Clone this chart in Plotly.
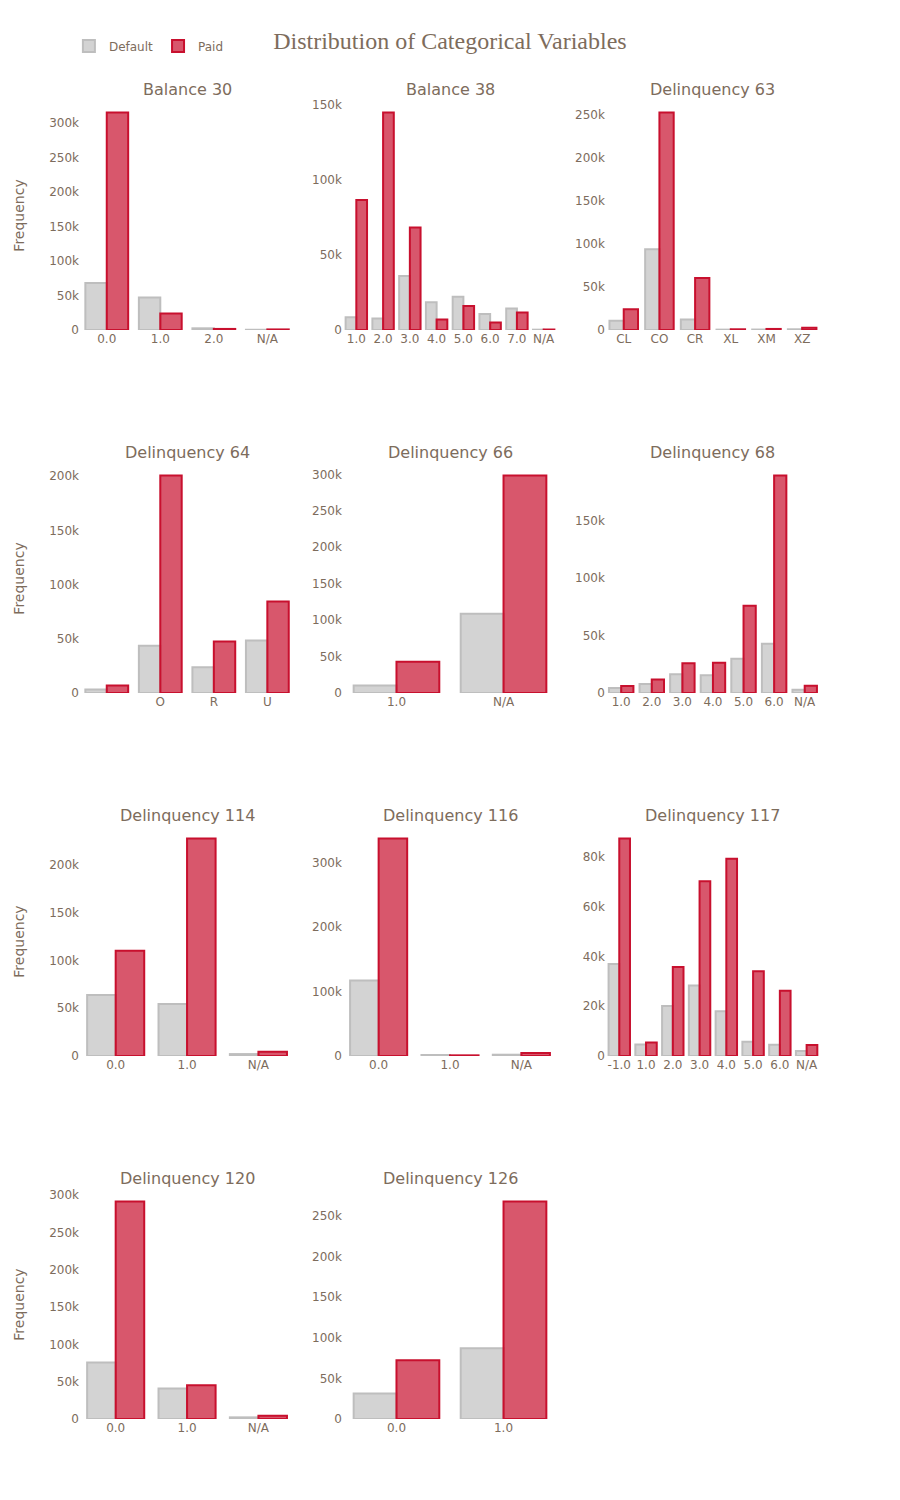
import plotly.graph_objects as go
from plotly.subplots import make_subplots

# categories and counts per variable
titles = ["Balance 30", "Balance 38", "Delinquency 63", "Delinquency 64",
          "Delinquency 66", "Delinquency 68", "Delinquency 114", "Delinquency 116",
          "Delinquency 117", "Delinquency 120", "Delinquency 126"]

b30_cats = ["0.0", "1.0", "2.0", "N/A"]
b30_default = [68000, 47000, 2400, 300]
b30_paid = [315000, 24000, 1500, 800]

b38_cats = ["1.0", "2.0", "3.0", "4.0", "5.0", "6.0", "7.0", "N/A"]
b38_default = [8400, 7700, 35900, 18500, 22200, 10600, 14300, 200]
b38_paid = [86600, 145000, 68300, 7000, 16000, 5000, 11700, 300]

d63_cats = ["CL", "CO", "CR", "XL", "XM", "XZ"]
d63_default = [10800, 93800, 12300, 400, 500, 800]
d63_paid = [24200, 253000, 60400, 800, 1200, 2700]

d64_cats = ["", "O", "R", "U"]
d64_default = [3300, 43500, 23700, 48400]
d64_paid = [7000, 200600, 47500, 84300]

d66_cats = ["1.0", "N/A"]
d66_default = [10400, 108700]
d66_paid = [43000, 298600]

d68_cats = ["1.0", "2.0", "3.0", "4.0", "5.0", "6.0", "N/A"]
d68_default = [4300, 7800, 16400, 15500, 29900, 42800, 2900]
d68_paid = [6000, 11800, 25900, 26400, 75900, 189400, 6300]

d114_cats = ["0.0", "1.0", "N/A"]
d114_default = [63800, 54500, 2000]
d114_paid = [110000, 227600, 4500]

d116_cats = ["0.0", "1.0", "N/A"]
d116_default = [117000, 1500, 2000]
d116_paid = [337000, 1000, 4600]

d117_cats = ["-1.0", "1.0", "2.0", "3.0", "4.0", "5.0", "6.0", "N/A"]
d117_default = [37000, 4600, 20100, 28300, 18000, 5700, 4500, 2000]
d117_paid = [87400, 5400, 35800, 70200, 79300, 34000, 26200, 4400]

d120_cats = ["0.0", "1.0", "N/A"]
d120_default = [75800, 40800, 2200]
d120_paid = [291500, 45200, 4400]

d126_cats = ["0.0", "1.0"]
d126_default = [31300, 87000]
d126_paid = [72400, 267500]

panels = [
    (b30_cats, b30_default, b30_paid),
    (b38_cats, b38_default, b38_paid),
    (d63_cats, d63_default, d63_paid),
    (d64_cats, d64_default, d64_paid),
    (d66_cats, d66_default, d66_paid),
    (d68_cats, d68_default, d68_paid),
    (d114_cats, d114_default, d114_paid),
    (d116_cats, d116_default, d116_paid),
    (d117_cats, d117_default, d117_paid),
    (d120_cats, d120_default, d120_paid),
    (d126_cats, d126_default, d126_paid),
]

text_col = '#7d6c5c'
font_fam = "Tahoma, 'DejaVu Sans', sans-serif"

fig = make_subplots(rows=4, cols=3, subplot_titles=titles,
                    vertical_spacing=0.1017, horizontal_spacing=0.066)

for i, (cats, dflt, paid) in enumerate(panels):
    r = i // 3 + 1
    c = i % 3 + 1
    fig.add_trace(go.Bar(x=cats, y=dflt, name="Default", legendgroup="d",
                         showlegend=(i == 0),
                         marker=dict(color='#d3d3d3', line=dict(color='#bebebe', width=2))),
                  row=r, col=c)
    fig.add_trace(go.Bar(x=cats, y=paid, name="Paid", legendgroup="p",
                         showlegend=(i == 0),
                         marker=dict(color='rgba(200,16,46,0.7)', line=dict(color='#c8102e', width=2))),
                  row=r, col=c)

fig.update_xaxes(type='category', showgrid=False, zeroline=False, showline=False,
                 tickfont=dict(size=12, color=text_col))
fig.update_yaxes(showgrid=False, zeroline=False, showline=False, automargin=False,
                 tickfont=dict(size=12, color=text_col))
for r in range(1, 5):
    fig.update_yaxes(title_text="Frequency", title_font=dict(size=14, color=text_col),
                     title_standoff=21, row=r, col=1)

# empty last cell
fig.update_xaxes(visible=False, row=4, col=3)
fig.update_yaxes(visible=False, row=4, col=3)

fig.update_annotations(font=dict(size=16, color=text_col, family=font_fam))

fig.update_layout(
    width=900, height=1500,
    margin=dict(l=72, r=88, t=93, b=89),
    barmode='group', bargap=0.2, bargroupgap=0,
    paper_bgcolor='white', plot_bgcolor='white',
    font=dict(family=font_fam, color=text_col),
    title=dict(text="Distribution of Categorical Variables", x=0.491, xanchor='center',
               y=0.978, yanchor='middle',
               font=dict(family="'Times New Roman', 'Liberation Serif', serif", size=24, color=text_col)),
    legend=dict(orientation='h', x=-0.015, y=1.0528, yanchor='top', font=dict(size=12, color=text_col)),
)

fig.write_html("out.html")
